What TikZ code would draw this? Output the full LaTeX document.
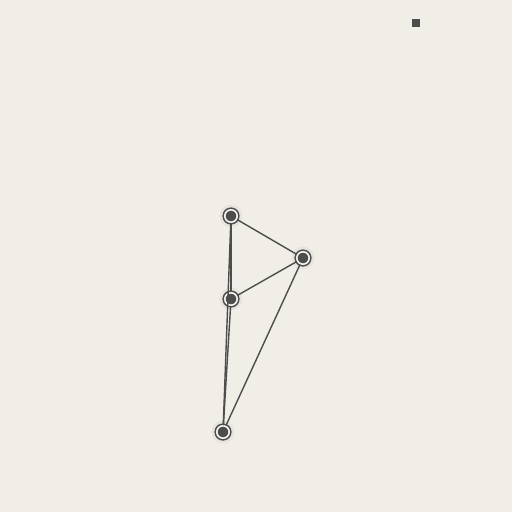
\documentclass[tikz,border=0pt]{standalone}
\definecolor{paper}{HTML}{F1EEE8}
\definecolor{ink}{HTML}{4D4D4D}
\begin{document}
\begin{tikzpicture}[x=1pt, y=-1pt,
        vertex/.style={circle, draw=ink, fill=ink, line width=1.6pt, double=paper!70!white, double distance=1.6pt, inner sep=0pt, minimum size=12.4pt},
        edge/.style={draw=ink, line width=1.4pt}]
        \fill[paper] (0,0) rectangle (512,512);
        \useasboundingbox (0,0) rectangle (512,512);
        \foreach \p in {(231,216), (303,258), (231,299), (223,432)}
            \fill[black, opacity=0.04] \p circle (11.5);
        \node[vertex] (top) at (231,216) {};
        \node[vertex] (right) at (303,258) {};
        \node[vertex] (mid) at (231,299) {};
        \node[vertex] (bottom) at (223,432) {};
        \node[rectangle, fill=ink, inner sep=0pt, minimum size=8pt] (mark) at (416,23) {};
        \path[edge] (top) -- (right);
        \path[edge] (right) -- (mid);
        \path[edge] (top) -- (mid);
        \path[edge] (top) -- (bottom);
        \path[edge] (mid) -- (bottom);
        \path[edge] (right) -- (bottom);
    \end{tikzpicture}
\end{document}
